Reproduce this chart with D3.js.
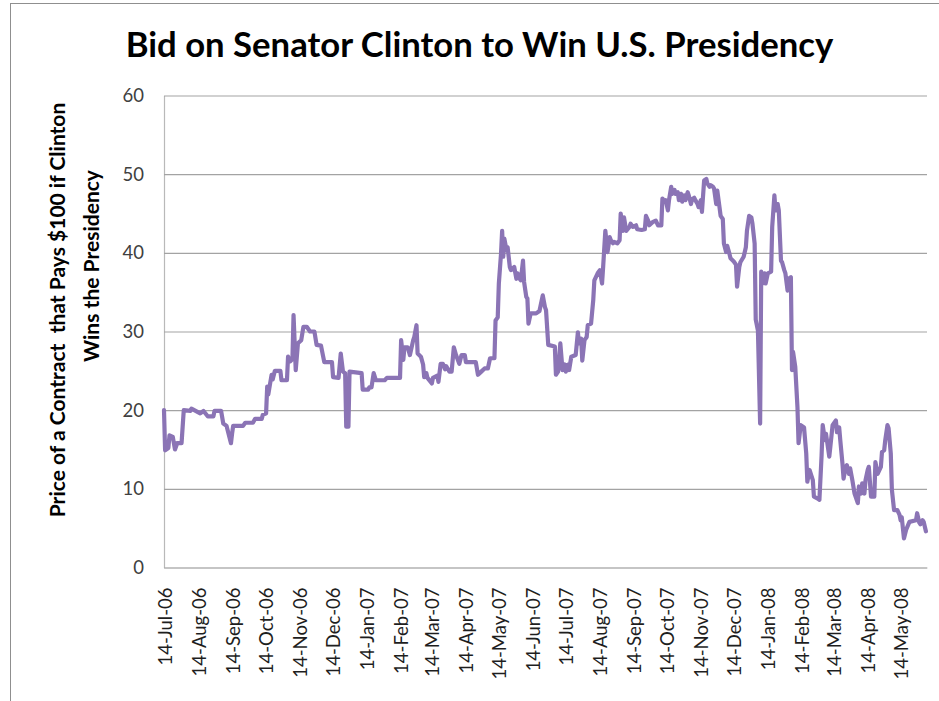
<!DOCTYPE html>
<html><head><meta charset="utf-8">
<script src="https://cdn.jsdelivr.net/npm/d3@7"></script>
<style>html,body{margin:0;padding:0;background:#fff;} svg{display:block;}</style>
</head><body>
<svg id="chart" width="939" height="701"></svg>
<script>
const chartTitle = "Bid on Senator Clinton to Win U.S. Presidency";
const yTitleLines = ["Price of a Contract  that Pays $100 if Clinton", "Wins the Presidency"];
const startDate = "2006-07-13";
const endDate = "2008-06-07";
const dayOffsets = [0,1,2,4,5,8,10,12,16,18,24,25,33,36,40,45,46,52,54,57,61,62,63,72,74,81,83,89,90,93,94,95,98,99,101,106,107,112,113,115,117,118,120,122,125,127,130,133,137,139,143,145,146,153,154,159,161,163,165,166,168,169,180,181,186,187,189,191,193,201,203,215,216,218,219,222,224,227,228,230,231,234,236,237,239,240,244,245,249,250,252,254,256,257,260,262,264,266,269,271,274,275,284,286,289,292,295,297,301,302,304,305,307,308,309,310,312,313,315,316,319,321,322,324,325,327,328,330,331,332,334,339,342,345,347,348,350,356,357,359,361,363,365,366,368,369,371,375,377,378,380,381,383,385,386,389,391,392,395,397,399,400,402,404,406,407,409,410,413,415,416,418,419,421,424,425,427,430,431,435,438,439,441,442,445,448,450,453,454,456,457,459,460,462,463,465,466,468,469,471,472,474,475,477,478,480,481,483,484,486,487,489,490,492,494,495,497,498,500,501,503,504,506,507,509,510,512,513,515,516,519,521,522,524,525,528,530,531,533,535,536,538,539,541,543,544,545,547,548,550,553,554,556,557,559,560,562,563,565,566,568,569,571,572,573,575,577,578,580,583,585,586,588,591,592,595,597,599,600,602,603,606,607,609,612,613,615,616,618,619,621,622,624,625,627,629,632,633,635,636,638,639,641,642,644,647,648,650,653,654,656,657,659,660,662,663,665,668,670,671,672,674,676,679,685,686,688,689,691,692,694];
const prices = [20.0,14.9,15.0,15.2,16.8,16.6,15.0,15.8,15.8,20.0,19.9,20.2,19.6,19.9,19.2,19.2,19.9,19.9,18.3,18.0,15.8,17.0,18.0,18.0,18.4,18.4,18.9,18.9,19.4,19.6,23.0,22.0,24.5,23.9,25.0,25.0,23.8,23.8,26.8,26.2,26.5,32.1,25.1,28.5,28.9,30.6,30.6,30.0,30.0,28.3,28.2,26.8,26.1,26.1,24.2,24.1,27.2,24.9,24.7,17.9,17.9,24.9,24.7,22.6,22.6,22.9,22.9,24.7,23.8,23.8,24.1,24.1,28.9,26.4,28.0,28.0,27.0,28.9,29.3,30.8,27.2,26.8,25.8,24.2,24.7,24.1,23.4,24.1,24.4,23.6,25.9,25.9,25.2,25.6,24.9,24.9,28.0,27.0,25.9,27.0,27.0,26.1,26.1,24.5,24.9,25.3,25.3,26.6,26.6,31.4,31.8,36.1,39.9,42.8,39.5,41.8,40.3,40.7,38.2,37.8,38.2,36.7,37.4,36.7,36.5,39.0,36.3,34.4,34.2,31.0,32.3,32.3,32.6,34.6,33.1,32.7,28.3,28.1,24.5,24.9,28.5,25.1,25.8,24.9,25.8,25.1,26.8,27.0,29.9,28.5,29.1,26.3,28.9,29.3,30.8,31.0,34.0,36.5,37.4,37.8,36.1,38.2,42.8,40.1,42.0,41.6,41.2,41.4,41.2,41.6,45.0,42.8,44.5,42.8,43.3,43.7,43.3,43.5,43.0,42.9,43.0,44.7,44.1,43.5,43.9,44.1,43.5,43.5,46.9,46.5,46.7,45.4,46.7,48.4,47.5,48.0,47.5,47.7,46.7,47.5,46.5,47.3,46.7,47.7,47.3,46.2,46.8,47.0,46.7,46.2,45.8,46.7,45.2,49.2,49.4,48.8,48.4,48.6,48.4,48.2,46.2,47.9,45.8,44.7,44.3,41.2,40.1,40.9,39.9,39.3,38.9,38.5,35.7,38.2,38.8,39.5,40.7,42.8,44.7,44.5,43.7,41.2,31.5,30.1,18.3,37.6,36.1,37.4,36.1,37.4,37.6,43.3,47.3,45.4,46.2,45.4,39.0,38.8,37.8,37.4,35.2,36.7,36.9,25.1,27.4,25.5,20.4,15.8,18.1,17.8,14.5,10.9,12.4,11.1,9.0,8.8,8.6,14.3,18.1,16.2,17.0,14.1,15.4,18.1,18.7,17.2,17.8,16.2,13.2,11.3,12.8,13.0,11.9,12.6,11.1,9.4,8.2,10.3,9.4,10.7,9.4,11.1,12.4,12.8,9.0,9.0,13.4,11.9,12.8,14.7,14.9,16.2,18.1,17.7,14.5,9.9,7.3,7.3,6.7,6.0,6.4,3.7,4.8,5.8,6.0,6.9,5.7,5.5,6.0,5.8,4.6];
const yTicks = [0, 10, 20, 30, 40, 50, 60];
const xTickLabels = ["14-Jul-06","14-Aug-06","14-Sep-06","14-Oct-06","14-Nov-06","14-Dec-06","14-Jan-07","14-Feb-07","14-Mar-07","14-Apr-07","14-May-07","14-Jun-07","14-Jul-07","14-Aug-07","14-Sep-07","14-Oct-07","14-Nov-07","14-Dec-07","14-Jan-08","14-Feb-08","14-Mar-08","14-Apr-08","14-May-08"];

(function () {
const FONT = "Lato, 'Open Sans', 'Noto Sans', sans-serif";
const svg = d3.select("#chart");
svg.append("rect").attr("width", 939).attr("height", 701).attr("fill", "#fff");

// outer chart frame (left and top edges visible)
svg.append("line").attr("x1", 10.5).attr("x2", 10.5).attr("y1", 3).attr("y2", 701)
  .attr("stroke", "#8f8f8f").attr("stroke-width", 1);
svg.append("line").attr("x1", 10).attr("x2", 939).attr("y1", 3.5).attr("y2", 3.5)
  .attr("stroke", "#8f8f8f").attr("stroke-width", 1);

const parseISO = d3.timeParse("%Y-%m-%d");
const parseTick = d3.timeParse("%d-%b-%y");
const t0 = parseISO(startDate);
const data = dayOffsets.map((d, i) => ({ date: d3.timeDay.offset(t0, d), v: prices[i] }));
const tickDates = xTickLabels.map(parseTick);

const pL = 164, pR = 927, pT = 95.5, pB = 567.5;
const x = d3.scaleTime().domain([t0, parseISO(endDate)]).range([pL, pR]);
const y = d3.scaleLinear().domain([0, 60]).range([pB, pT]);

// y axis + gridlines
const gy = svg.append("g").attr("transform", `translate(${pL},0)`)
  .call(d3.axisLeft(y).tickValues(yTicks).tickSize(-(pR - pL)).tickSizeOuter(0).tickPadding(20));
gy.select(".domain").attr("stroke", "#b9b9b9").attr("stroke-width", 1.2);
gy.selectAll(".tick line").attr("stroke", "#a3a3a3").attr("stroke-width", 1.1);
gy.selectAll(".tick text").attr("font-family", FONT).attr("font-size", 18.5)
  .attr("fill", "#404040");

// x axis
const gx = svg.append("g").attr("transform", `translate(0,${pB})`)
  .call(d3.axisBottom(x).tickValues(tickDates).tickFormat(d3.timeFormat("%d-%b-%y")).tickSize(0).tickSizeOuter(0));
gx.select(".domain").attr("stroke", "#b9b9b9").attr("stroke-width", 1.2);
gx.selectAll(".tick text")
  .attr("font-family", FONT).attr("font-size", 18.5).attr("fill", "#1e1e1e")
  .attr("transform", "rotate(-90)")
  .attr("text-anchor", "end")
  .attr("x", -20).attr("y", 0).attr("dy", "0.36em");

// line
const line = d3.line().x(d => x(d.date)).y(d => y(d.v));
svg.append("path").datum(data)
  .attr("d", line)
  .attr("fill", "none")
  .attr("stroke", "#8b74b5")
  .attr("stroke-width", 4.2)
  .attr("stroke-linejoin", "round")
  .attr("stroke-linecap", "round");

function fit(sel, target) {
  const w = sel.node().getComputedTextLength();
  const fs = parseFloat(sel.attr("font-size"));
  if (w > 0) sel.attr("font-size", fs * target / w);
}

// title
const tt = svg.append("text").text(chartTitle)
  .attr("x", 479.5).attr("y", 57)
  .attr("text-anchor", "middle")
  .attr("font-family", FONT).attr("font-weight", "bold").attr("font-size", 30)
  .attr("fill", "#000");
fit(tt, 708);

// y axis title
const yt1 = svg.append("text").text(yTitleLines[0])
  .style("white-space", "pre")
  .attr("transform", "translate(58,310) rotate(-90)")
  .attr("text-anchor", "middle").attr("dy", "0.35em")
  .attr("font-family", FONT).attr("font-weight", "bold").attr("font-size", 21)
  .attr("fill", "#000");
fit(yt1, 415);
const yfs = yt1.attr("font-size");
svg.append("text").text(yTitleLines[1])
  .style("white-space", "pre")
  .attr("transform", "translate(92,266) rotate(-90)")
  .attr("text-anchor", "middle").attr("dy", "0.35em")
  .attr("font-family", FONT).attr("font-weight", "bold").attr("font-size", yfs)
  .attr("fill", "#000");
})();
</script>
</body></html>
